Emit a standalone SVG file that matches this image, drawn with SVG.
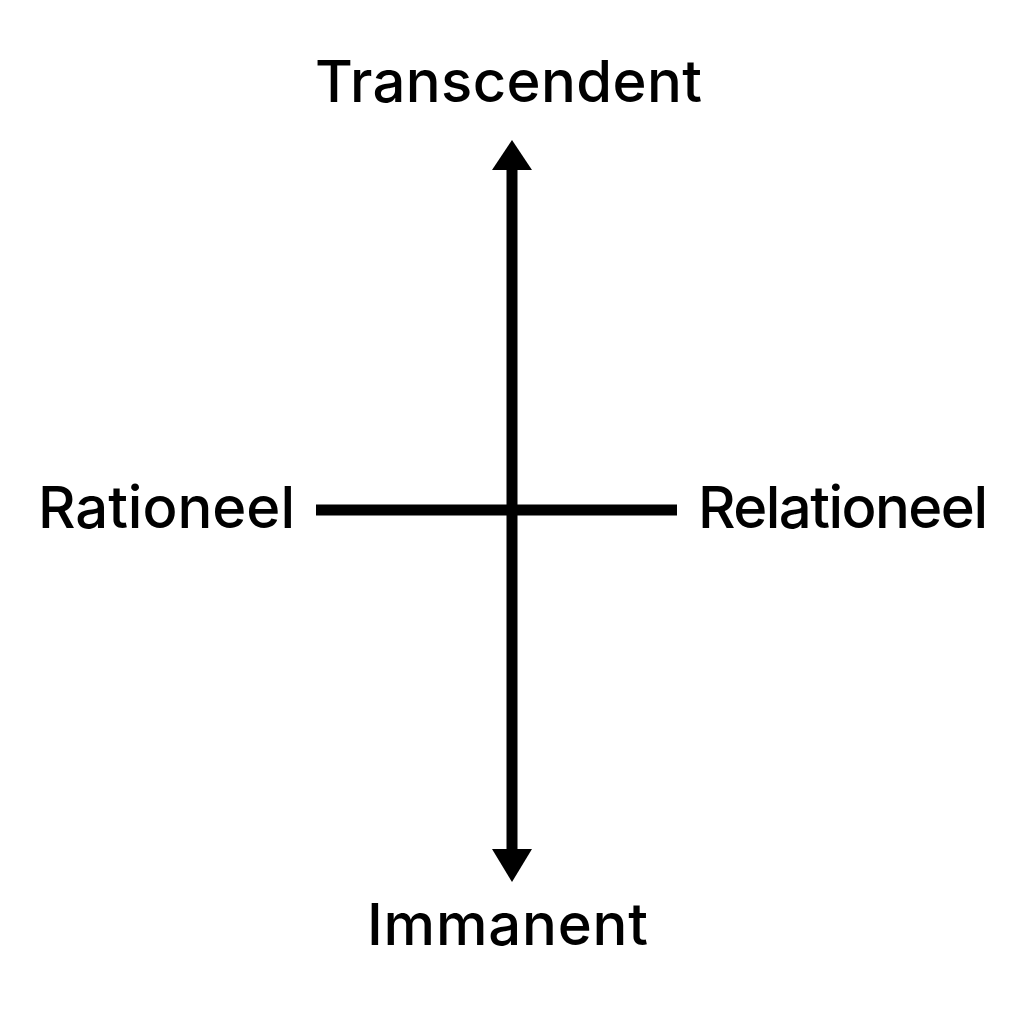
<svg xmlns="http://www.w3.org/2000/svg" width="1024" height="1024" viewBox="0 0 1024 1024">
<style>
.lbl{font-family:Inter,"Noto Sans","Liberation Sans",sans-serif;font-size:58px;font-weight:500;fill:#000}
.ax{stroke:#000;stroke-width:11;fill:none}
.head{fill:#000}
</style>
<rect width="1024" height="1024" fill="#fff"/>
<g id="connectors">
<line class="ax" x1="512" y1="165" x2="512" y2="855"/>
<line class="ax" x1="316" y1="510" x2="677" y2="510"/>
<polygon class="head" points="512,140 532,170 492,170"/>
<polygon class="head" points="512,882 532,849 492,849"/>
</g>
<g id="transcendent"><text class="lbl" x="315" y="102" textLength="387" lengthAdjust="spacing">Transcendent</text></g>
<g id="rationeel"><text class="lbl" x="38" y="528" textLength="257" lengthAdjust="spacing">Rationeel</text></g>
<g id="relationeel"><text class="lbl" x="698" y="528" textLength="290" lengthAdjust="spacing">Relationeel</text></g>
<g id="immanent"><text class="lbl" x="367" y="945" textLength="281" lengthAdjust="spacing">Immanent</text></g>
</svg>
